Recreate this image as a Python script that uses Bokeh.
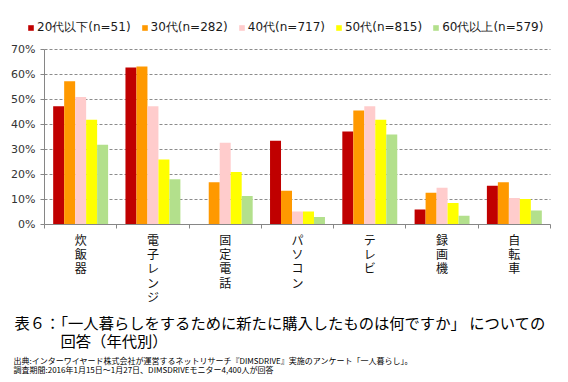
from bokeh.plotting import figure
from bokeh.models import (Range1d, FixedTicker, NumeralTickFormatter, Legend, LegendItem, Label)
from bokeh.embed import file_html
from bokeh.resources import INLINE

categories = ["炊飯器", "電子レンジ", "固定電話", "パソコン", "テレビ", "録画機", "自転車"]
series_names = ["20代以下(n=51)", "30代(n=282)", "40代(n=717)", "50代(n=815)", "60代以上(n=579)"]
s20 = [47.3, 62.8, 0.0, 33.5, 37.2, 6.0, 15.5]
s30 = [57.3, 63.2, 16.9, 13.5, 45.6, 12.7, 16.9]
s40 = [51.0, 47.3, 32.7, 5.2, 47.3, 14.7, 10.6]
s50 = [41.9, 26.0, 21.0, 5.2, 41.9, 8.6, 10.2]
s60 = [31.9, 18.1, 11.4, 3.0, 36.0, 3.5, 5.6]
colors = ["#C00000", "#FF9900", "#FFCCCC", "#FFFF00", "#B3E08C"]
y_ticks = [0, 10, 20, 30, 40, 50, 60, 70]
title_lines = ["表６：「一人暮らしをするために新たに購入したものは何ですか」 についての", "回答（年代別）"]
source_lines = ["出典:インターワイヤード株式会社が運営するネットリサーチ『DIMSDRIVE』実施のアンケート「一人暮らし」。",
                "調査期間:2016年1月15日～1月27日、DIMSDRIVEモニター4,400人が回答"]

JP = "Noto Sans CJK JP"
W, H = 568, 382
n = len(categories)
ymax = y_ticks[-1] / 100
centers = [i + 0.5 for i in range(n)]
bounds = list(range(n + 1))

# plot region inside the canvas (pixels): left 44, right 550, top 49, bottom 224
px_x = (550 - 44) / n
px_y = (224 - 49) / ymax
x_range = Range1d(-44 / px_x, n + (W - 550) / px_x)
y_range = Range1d(-(H - 224) / px_y, ymax + 49 / px_y)

p = figure(width=W, height=H, output_backend="svg", toolbar_location=None,
           x_range=x_range, y_range=y_range,
           min_border=0, min_border_left=0, min_border_right=0, min_border_top=0, min_border_bottom=0)
p.outline_line_color = None
p.background_fill_color = "white"
p.border_fill_color = "white"
p.xgrid.visible = False
p.ygrid.visible = False

# dashed gridlines (10%..70%)
gt = [t / 100 for t in y_ticks[1:]]
p.segment(x0=[0] * len(gt), x1=[n] * len(gt), y0=gt, y1=gt,
          line_color="#8c8c8c", line_dash="3 2", line_width=1)

bw = 0.152
series = [s20, s30, s40, s50, s60]
items = []
for k, (vals, col, name) in enumerate(zip(series, colors, series_names)):
    off = (k - 2) * bw
    r = p.vbar(x=[c + off for c in centers], top=[v / 100 for v in vals], width=bw,
               fill_color=col, line_color=None)
    items.append(LegendItem(label=name, renderers=[r]))

# y axis
p.yaxis.fixed_location = 0
p.yaxis.bounds = (0, ymax)
p.yaxis.ticker = FixedTicker(ticks=[t / 100 for t in y_ticks])
p.yaxis.formatter = NumeralTickFormatter(format="0%")
p.yaxis.axis_line_color = "#868686"
p.yaxis.major_tick_line_color = "#868686"
p.yaxis.major_tick_out = 4
p.yaxis.major_tick_in = 0
p.yaxis.minor_tick_line_color = None
p.yaxis.major_label_text_font = "DejaVu Sans"
p.yaxis.major_label_text_font_size = "11px"
p.yaxis.major_label_text_color = "#333333"
p.yaxis.major_label_standoff = 5

# x axis
p.xaxis.fixed_location = 0
p.xaxis.bounds = (0, n)
p.xaxis.ticker = FixedTicker(ticks=centers, minor_ticks=bounds)
p.xaxis.major_label_overrides = {c: "\n".join(name) for c, name in zip(centers, categories)}
p.xaxis.axis_line_color = "#868686"
p.xaxis.major_tick_line_color = None
p.xaxis.major_tick_out = 0
p.xaxis.major_tick_in = 0
p.xaxis.minor_tick_line_color = "#868686"
p.xaxis.minor_tick_out = 4
p.xaxis.minor_tick_in = 0
p.xaxis.major_label_text_font = JP
p.xaxis.major_label_text_font_size = "12px"
p.xaxis.major_label_text_color = "#111111"
p.xaxis.major_label_text_line_height = 0.85
p.xaxis.major_label_standoff = 2

legend = Legend(items=items, orientation="horizontal", location=(27, H - 25 - 11),
                padding=0, margin=0, spacing=10, glyph_width=7, glyph_height=7,
                label_height=14, label_width=10,
                label_standoff=3, label_text_font="DejaVu Sans", label_text_font_size="12px",
                label_text_color="#1a1a1a", border_line_color=None, background_fill_alpha=0)
p.add_layout(legend, "center")

for txt, x, yc in zip(title_lines, [14, 60], [321, 339]):
    p.add_layout(Label(x=x, y=H - yc, x_units="screen", y_units="screen", text=txt,
                       text_font=JP, text_font_size="15.3px", text_color="black",
                       text_baseline="middle"))
for txt, yc in zip(source_lines, [360, 369]):
    p.add_layout(Label(x=13, y=H - yc, x_units="screen", y_units="screen", text=txt,
                       text_font=JP, text_font_size="8px", text_color="black",
                       text_baseline="middle"))

open("out.html", "w").write(file_html(p, INLINE))
